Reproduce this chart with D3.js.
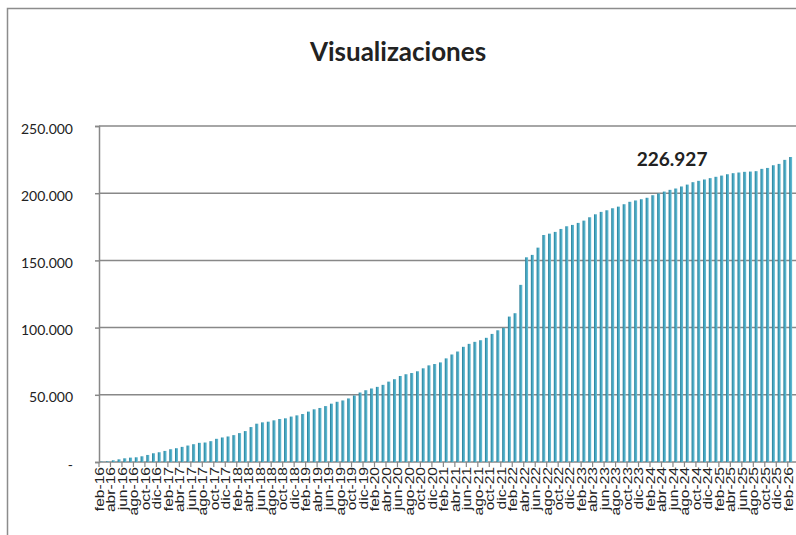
<!DOCTYPE html>
<html>
<head>
<meta charset="utf-8">
<script src="https://cdn.jsdelivr.net/npm/d3@7"></script>
<style>
  body { margin: 0; background: #fff; }
  text { fill: #222; }
</style>
</head>
<body>
<svg id="chart"></svg>
<script>
// month names (spanish) and years of the series
const monthNames = ['ene', 'feb', 'mar', 'abr', 'may', 'jun', 'jul', 'ago', 'sep', 'oct', 'nov', 'dic'];
const years = ['16', '17', '18', '19', '20', '21', '22', '23', '24', '25', '26'];

// cumulative views, feb-16 .. feb-26
const views = [
    300, 500, 1250, 2000, 2750, 3250, 3500, 4250, 5250, 6500, 7250,
    8250, 9500, 10250, 11250, 12250, 13250, 14250, 14500, 15500, 17250, 18250,
    19000, 20000, 21500, 23000, 26000, 28500, 29500, 30000, 31000, 32000, 32500,
    33800, 34700, 35700, 37500, 39200, 40200, 41600, 43400, 44800, 45800, 47300,
    49500, 51700, 53400, 54700, 55900, 57400, 59800, 61600, 64000, 65300, 66200,
    67500, 69700, 71900, 72900, 74100, 77100, 80000, 82200, 85700, 87900, 89400,
    90600, 92400, 95300, 98000, 99800, 108200, 110700, 131800, 152300, 154100, 159500,
    168900, 169900, 171200, 173400, 175400, 176400, 177900, 179600, 182100, 184300, 186100,
    187300, 188800, 190000, 191800, 193600, 194600, 195500, 196600, 198500, 199800, 201200,
    202500, 203500, 205000, 206400, 208200, 209200, 210200, 211200, 212200, 213100, 214100,
    214900, 215400, 215900, 216100, 216400, 218100, 218800, 220800, 221800, 224800, 226927
];

const yTicks = [0, 50000, 100000, 150000, 200000, 250000];
const title = 'Visualizaciones';

// month categories from feb-16 through feb-26
const months = [];
years.forEach(y => monthNames.forEach(m => months.push(m + '-' + y)));
const startIdx = months.indexOf('feb-16');
const endIdx = months.indexOf('feb-26');
const categories = months.slice(startIdx, endIdx + 1);

const size = { w: 796, h: 535 };
const margin = { t: 126, r: 2.5, b: 73, l: 99 };

const svg = d3.select('svg#chart')
    .attr('width', size.w)
    .attr('height', size.h);

const locale = d3.formatLocale({ decimal: ',', thousands: '.', grouping: [3], currency: ['', ''] });
const fmt = locale.format(',');

// chart frame (right/bottom run off the picture)
svg.append('rect')
    .attr('x', 7.5).attr('y', 8.5)
    .attr('width', 820).attr('height', 560)
    .attr('fill', 'none')
    .attr('stroke', '#8c8c8c')
    .attr('stroke-width', 1.5);

const defs = svg.append('defs');
const grad = defs.append('linearGradient').attr('id', 'barGrad')
    .attr('x1', 0).attr('x2', 1).attr('y1', 0).attr('y2', 0);
grad.append('stop').attr('offset', '0%').attr('stop-color', '#267a92');
grad.append('stop').attr('offset', '45%').attr('stop-color', '#44a5c0');
grad.append('stop').attr('offset', '100%').attr('stop-color', '#6cc0d7');

const x = d3.scaleBand()
    .domain(categories)
    .range([margin.l, size.w - margin.r])
    .paddingInner(0.48)
    .paddingOuter(0.24);

const y = d3.scaleLinear()
    .domain([0, 250000])
    .range([size.h - margin.b, margin.t]);

// gridlines
svg.append('g')
    .selectAll('line')
    .data(yTicks)
    .join('line')
    .attr('x1', margin.l)
    .attr('x2', size.w)
    .attr('y1', d => y(d))
    .attr('y2', d => y(d))
    .attr('stroke', '#888')
    .attr('stroke-width', 1.5);

// y axis
const yAxis = svg.append('g')
    .attr('transform', `translate(${margin.l},0)`)
    .call(d3.axisLeft(y).tickValues(yTicks).tickSize(4).tickPadding(22)
        .tickFormat(d => d === 0 ? '-' : fmt(d)));
yAxis.select('.domain').attr('stroke', '#888').attr('stroke-width', 1.5);
yAxis.selectAll('.tick line').attr('stroke', '#888').attr('stroke-width', 1.5);
yAxis.selectAll('.tick text')
    .attr('dy', '0.5em')
    .style('font-family', 'Lato, sans-serif')
    .style('font-size', '14px')
    .attr('fill', '#222');

// bars
svg.append('g')
    .selectAll('rect')
    .data(views)
    .join('rect')
    .attr('x', (d, i) => x(categories[i]))
    .attr('y', d => y(d))
    .attr('width', x.bandwidth())
    .attr('height', d => y(0) - y(d))
    .attr('fill', 'url(#barGrad)');

// x axis ticks every two months
const step = x.step();
const gap = step - x.bandwidth();
svg.append('g')
    .selectAll('line')
    .data(categories.filter((d, i) => i % 2 === 0))
    .join('line')
    .attr('x1', d => x(d) - gap / 2)
    .attr('x2', d => x(d) - gap / 2)
    .attr('y1', y(0))
    .attr('y2', y(0) + 5)
    .attr('stroke', '#888')
    .attr('stroke-width', 1.2);

// x labels (rotated, a bit stretched along the text like the original)
svg.append('g')
    .selectAll('text')
    .data(categories.filter((d, i) => i % 2 === 0))
    .join('text')
    .attr('transform', d => `translate(${x(d) + x.bandwidth() / 2},${y(0) + 5}) rotate(-90) scale(1.2,1)`)
    .attr('dy', '0.15em')
    .attr('text-anchor', 'end')
    .style('font-family', '"Liberation Sans", Arial, sans-serif')
    .style('font-size', '13px')
    .text(d => d);

// title
svg.append('text')
    .attr('x', size.w / 2)
    .attr('y', 61)
    .attr('text-anchor', 'middle')
    .style('font-family', 'Lato, sans-serif')
    .style('font-weight', 'bold')
    .style('font-size', '26px')
    .text(title);

// label of the last value
const last = views[views.length - 1];
svg.append('text')
    .attr('x', x(categories[99]) + x.bandwidth() / 2 + 2)
    .attr('y', y(last) + 9)
    .attr('text-anchor', 'middle')
    .style('font-family', 'Lato, sans-serif')
    .style('font-weight', 'bold')
    .style('font-size', '19px')
    .text(fmt(last));
</script>
</body>
</html>
